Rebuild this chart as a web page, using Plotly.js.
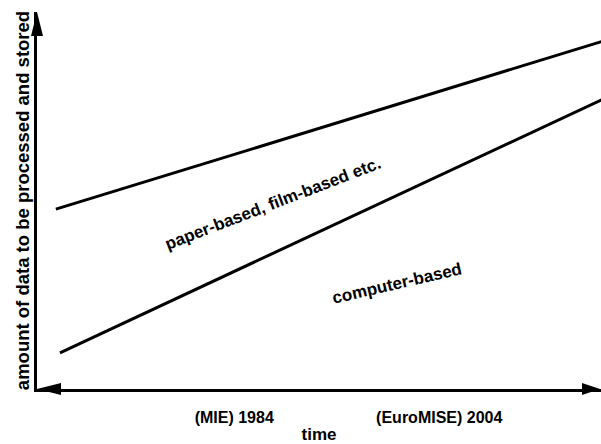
<!DOCTYPE html>
<html>
<head>
<meta charset="utf-8">
<script src="https://cdn.plot.ly/plotly-3.0.1.min.js"></script>
<style>html,body{margin:0;padding:0;background:#fff;}#chart{width:601px;height:444px;}</style>
</head>
<body>
<div id="chart"></div>
<script>
// Data (x: year, y: relative amount 0-100)
const paperYears = [1966.6, 2020];
const paperAmount = [47.7, 92.3];
const computerYears = [1967.0, 2020];
const computerAmount = [9.6, 76.9];
const tickYears = [1984, 2004];
const tickLabels = ['(MIE) 1984', '(EuroMISE) 2004'];
const xRange = [1964.76, 2019.78];
const yRange = [0, 100];
const regionLabels = ['paper-based, film-based etc.', 'computer-based'];
const regionX = [1987.8, 1999.9];
const regionY = [49.3, 27.9];
const regionAngles = [-21, -13];

const FONT = 'Liberation Sans, Arial, Helvetica, sans-serif';

const traces = [
  {x: paperYears, y: paperAmount, mode: 'lines', line: {color: '#000', width: 3}, hoverinfo: 'skip', showlegend: false},
  {x: computerYears, y: computerAmount, mode: 'lines', line: {color: '#000', width: 3}, hoverinfo: 'skip', showlegend: false}
];

const annotations = regionLabels.map((t, i) => ({
  x: regionX[i], y: regionY[i], xref: 'x', yref: 'y', text: t, showarrow: false,
  textangle: regionAngles[i], font: {family: FONT, size: 17, weight: 'bold', color: '#000'}
}));

const arrowBase = {type: 'path', xref: 'paper', yref: 'paper', xsizemode: 'pixel', ysizemode: 'pixel',
  fillcolor: '#000', line: {color: '#000', width: 0}};
const shapes = [
  // up arrowhead at top of y axis
  Object.assign({}, arrowBase, {xanchor: 0, yanchor: 1, path: 'M0,0 L-6,-24 L6,-24 Z'}),
  // left arrowhead on x axis
  Object.assign({}, arrowBase, {xanchor: 0, yanchor: 0, path: 'M0,0 L24,6 L24,-6 Z'}),
  // right arrowhead on x axis
  Object.assign({}, arrowBase, {xanchor: 1, yanchor: 0, path: 'M-1,0 L-19,6 L-19,-6 Z'})
];

const layout = {
  width: 601, height: 444,
  margin: {l: 37, r: 0, t: 12, b: 55},
  paper_bgcolor: '#fff', plot_bgcolor: '#fff',
  font: {family: FONT, color: '#000'},
  xaxis: {
    range: xRange, showgrid: false, zeroline: false,
    showline: true, linecolor: '#000', linewidth: 3,
    tickvals: tickYears, ticktext: tickLabels, ticks: '',
    ticklabelstandoff: 12,
    tickfont: {family: FONT, size: 16, weight: 'bold', color: '#000'},
    title: {text: 'time', font: {family: FONT, size: 17, weight: 'bold', color: '#000'}, standoff: 8}
  },
  yaxis: {
    range: yRange, showgrid: false, zeroline: false,
    showline: true, linecolor: '#000', linewidth: 3,
    showticklabels: false, ticks: '',
    title: {text: 'amount of data to be processed and stored', font: {family: FONT, size: 18.5, weight: 'bold', color: '#000'}, standoff: 0}
  },
  annotations: annotations,
  shapes: shapes
};

Plotly.newPlot('chart', traces, layout, {staticPlot: true, displayModeBar: false});
</script>
</body>
</html>
